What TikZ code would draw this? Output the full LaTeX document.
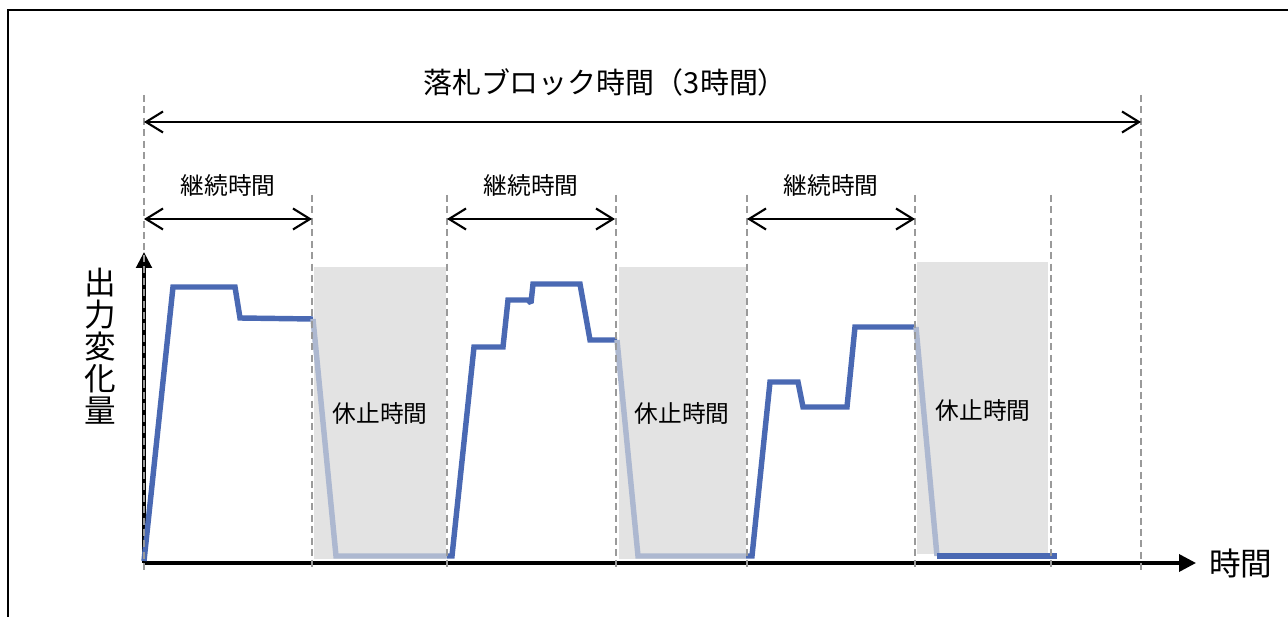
\documentclass[tikz,border=0pt]{standalone}
\usepackage{fontspec}
\setmainfont{Noto Sans CJK JP}
\usepackage{tikz}
\usetikzlibrary{arrows.meta, positioning, calc}
\definecolor{runblue}{HTML}{4A69B3}
\definecolor{fadeblue}{HTML}{ADB8D0}
\definecolor{restgray}{HTML}{E3E3E3}
\definecolor{guidegray}{HTML}{9A9A9A}
\tikzset{
   myguide/.style={draw=guidegray, line width=0.6pt, dash pattern=on 4pt off 2.5pt},
   myspan/.style={draw, line width=1.2pt, {Straight Barb[length=3.4mm,width=4.2mm,line width=1.2pt]}-{Straight Barb[length=3.4mm,width=4.2mm,line width=1.2pt]}},
   myaxis/.style={draw, line width=2pt, -{Triangle[length=3.4mm,width=3.4mm]}},
   myrest/.style={fill=restgray, draw=none},
   myrun/.style={draw=runblue, line width=3.1pt, miter limit=2},
   myfade/.style={draw=fadeblue, line width=3.1pt, miter limit=2},
   mytitle/.style={font=\fontsize{16.5}{19}\selectfont, inner sep=0pt},
   mylabel/.style={font=\fontsize{13.5}{16}\selectfont, inner sep=0pt},
   myaxlabel/.style={font=\fontsize{18}{18.2}\selectfont, inner sep=0pt}
}

\begin{document}
\begin{tikzpicture}[x=0.02cm, y=-0.02cm]
   \useasboundingbox (0,0) rectangle (1288,617);
   % frame
   \draw[line width=1.5pt] (8,617) -- (8,10) -- (1288,10);
   % rest periods
   \fill[myrest] (314,267) rectangle (446,559);
   \fill[myrest] (619,267) rectangle (746,559);
   \fill[myrest] (917,262) rectangle (1048,554);
   % guide lines
   \foreach \n/\x/\t in {a/144/95, b/312/195, c/447/195, d/616/195, e/747/195, f/915/195, g/1051/195, h/1141/95}{
      \coordinate (g\n top) at (\x,\t);
      \coordinate (g\n bot) at (\x,570);
   }
   % axes
   \coordinate (origin) at (144,563);
   \coordinate (xend) at (1196,563);
   \coordinate (yend) at (144,252);
   \draw[myaxis] (origin) -- (xend);
   \draw[myaxis, -{Triangle[length=3.2mm,width=3.1mm]}] (origin) -- (yend);
   \node (xlabel) [myaxlabel, anchor=west] at ([xshift=0.26cm]xend) {時間};
   \node (ylabel) [myaxlabel, align=center] at (100,346) {出\\力\\変\\化\\量};
   % output curve
   \draw[myrun] (144,561) -- (173,287) -- (235,287) -- (240,318) -- (313,319);
   \draw[myfade] (313,319) -- (336,556) -- (447,556);
   \draw[myrun] (447,556) -- (452,556) -- (474,347) -- (503,347) -- (508,300) -- (528,300)
      -- (531,303) -- (533,284) -- (580,284) -- (590,340) -- (617,340);
   \draw[myfade] (617,340) -- (638,556) -- (746,556);
   \draw[myrun] (746,556) -- (752,556) -- (770,382) -- (798,382) -- (803,407) -- (847,407)
      -- (855,327) -- (916,327);
   \draw[myfade] (916,327) -- (937,556);
   \draw[myrun] (937,556) -- (1057,556);
   % dashed guides on top
   \foreach \n in {a,b,c,d,e,f,g,h}
      \draw[myguide] (g\n top) -- (g\n bot);
   % block span
   \coordinate (blockL) at (144,122);
   \coordinate (blockR) at (1141,122);
   \draw[myspan] (blockL) -- (blockR);
   \node (block) [mytitle] at (605,82) {落札ブロック時間（3時間）};
   % run spans
   \foreach \n/\l/\r in {A/144/312, B/447/615, C/747/915}{
      \coordinate (run\n L) at (\l,219);
      \coordinate (run\n R) at (\r,219);
      \draw[myspan] (run\n L) -- (run\n R);
      \node (run\n) [mylabel] at ($(run\n L)!0.5!(run\n R)+(0,-34)$) {継続時間};
   }
   % rest labels
   \node (restA) [mylabel] at (380,413) {休止時間};
   \node (restB) [mylabel] at (682,413) {休止時間};
   \node (restC) [mylabel] at (983,410) {休止時間};
\end{tikzpicture}
\end{document}
